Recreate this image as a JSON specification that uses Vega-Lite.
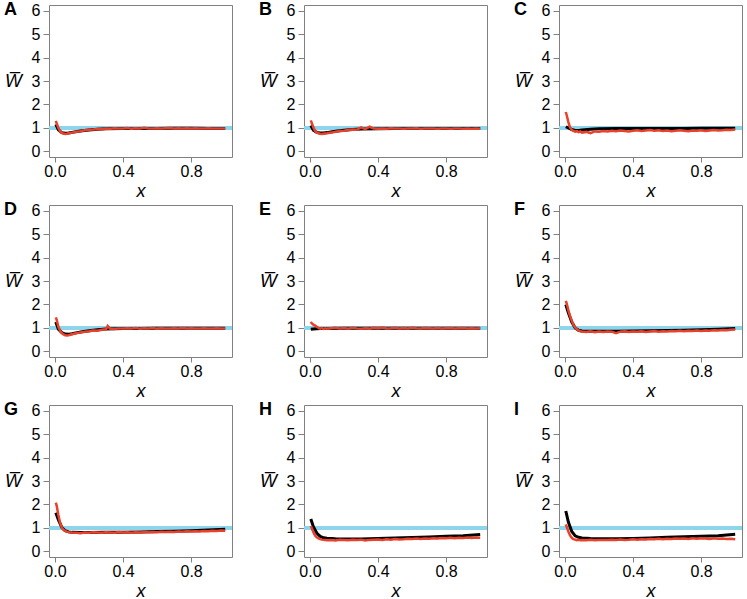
{
  "$schema": "https://vega.github.io/schema/vega-lite/v6.json",
  "padding": {"left": 3, "top": 0, "right": 0, "bottom": 0},
  "background": "white",
  "bounds": "flush",
  "columns": 3,
  "spacing": {"row": 48, "column": 72},
  "datasets": {
    "rows": [
      {"p":"A","s":"m","x":0.005,"y":1.15},{"p":"A","s":"m","x":0.02,"y":0.92},{"p":"A","s":"m","x":0.04,"y":0.80},{"p":"A","s":"m","x":0.06,"y":0.77},{"p":"A","s":"m","x":0.08,"y":0.78},{"p":"A","s":"m","x":0.1,"y":0.81},{"p":"A","s":"m","x":0.13,"y":0.85},{"p":"A","s":"m","x":0.16,"y":0.88},{"p":"A","s":"m","x":0.2,"y":0.91},{"p":"A","s":"m","x":0.25,"y":0.94},{"p":"A","s":"m","x":0.3,"y":0.96},{"p":"A","s":"m","x":0.4,"y":0.97},{"p":"A","s":"m","x":0.5,"y":0.98},{"p":"A","s":"m","x":0.6,"y":0.98},{"p":"A","s":"m","x":0.7,"y":0.985},{"p":"A","s":"m","x":0.8,"y":0.985},{"p":"A","s":"m","x":0.9,"y":0.98},{"p":"A","s":"m","x":1.0,"y":0.98},
      {"p":"A","s":"r","x":0.005,"y":1.30},{"p":"A","s":"r","x":0.01,"y":1.20},{"p":"A","s":"r","x":0.02,"y":1.00},{"p":"A","s":"r","x":0.03,"y":0.86},{"p":"A","s":"r","x":0.04,"y":0.79},{"p":"A","s":"r","x":0.05,"y":0.76},{"p":"A","s":"r","x":0.06,"y":0.74},{"p":"A","s":"r","x":0.07,"y":0.75},{"p":"A","s":"r","x":0.08,"y":0.77},{"p":"A","s":"r","x":0.09,"y":0.78},{"p":"A","s":"r","x":0.1,"y":0.80},{"p":"A","s":"r","x":0.125,"y":0.84},{"p":"A","s":"r","x":0.15,"y":0.86},{"p":"A","s":"r","x":0.175,"y":0.90},{"p":"A","s":"r","x":0.2,"y":0.92},{"p":"A","s":"r","x":0.225,"y":0.93},{"p":"A","s":"r","x":0.25,"y":0.95},{"p":"A","s":"r","x":0.275,"y":0.94},{"p":"A","s":"r","x":0.3,"y":0.97},{"p":"A","s":"r","x":0.325,"y":0.96},{"p":"A","s":"r","x":0.35,"y":0.99},{"p":"A","s":"r","x":0.375,"y":0.97},{"p":"A","s":"r","x":0.4,"y":0.98},{"p":"A","s":"r","x":0.425,"y":1.00},{"p":"A","s":"r","x":0.45,"y":0.97},{"p":"A","s":"r","x":0.475,"y":0.99},{"p":"A","s":"r","x":0.5,"y":0.98},{"p":"A","s":"r","x":0.525,"y":1.01},{"p":"A","s":"r","x":0.55,"y":0.98},{"p":"A","s":"r","x":0.575,"y":0.97},{"p":"A","s":"r","x":0.6,"y":0.99},{"p":"A","s":"r","x":0.625,"y":0.98},{"p":"A","s":"r","x":0.65,"y":0.99},{"p":"A","s":"r","x":0.675,"y":1.00},{"p":"A","s":"r","x":0.7,"y":0.98},{"p":"A","s":"r","x":0.725,"y":0.99},{"p":"A","s":"r","x":0.75,"y":0.97},{"p":"A","s":"r","x":0.775,"y":0.99},{"p":"A","s":"r","x":0.8,"y":0.98},{"p":"A","s":"r","x":0.825,"y":0.99},{"p":"A","s":"r","x":0.85,"y":0.97},{"p":"A","s":"r","x":0.875,"y":0.98},{"p":"A","s":"r","x":0.9,"y":0.99},{"p":"A","s":"r","x":0.925,"y":0.97},{"p":"A","s":"r","x":0.95,"y":0.98},{"p":"A","s":"r","x":0.975,"y":0.97},{"p":"A","s":"r","x":1.0,"y":0.98},

      {"p":"B","s":"m","x":0.005,"y":1.10},{"p":"B","s":"m","x":0.02,"y":0.90},{"p":"B","s":"m","x":0.04,"y":0.81},{"p":"B","s":"m","x":0.06,"y":0.78},{"p":"B","s":"m","x":0.08,"y":0.78},{"p":"B","s":"m","x":0.1,"y":0.80},{"p":"B","s":"m","x":0.13,"y":0.84},{"p":"B","s":"m","x":0.16,"y":0.87},{"p":"B","s":"m","x":0.2,"y":0.90},{"p":"B","s":"m","x":0.25,"y":0.93},{"p":"B","s":"m","x":0.3,"y":0.95},{"p":"B","s":"m","x":0.4,"y":0.965},{"p":"B","s":"m","x":0.5,"y":0.97},{"p":"B","s":"m","x":0.6,"y":0.975},{"p":"B","s":"m","x":0.7,"y":0.975},{"p":"B","s":"m","x":0.8,"y":0.975},{"p":"B","s":"m","x":0.9,"y":0.975},{"p":"B","s":"m","x":1.0,"y":0.975},
      {"p":"B","s":"r","x":0.005,"y":1.32},{"p":"B","s":"r","x":0.01,"y":1.22},{"p":"B","s":"r","x":0.02,"y":1.02},{"p":"B","s":"r","x":0.03,"y":0.88},{"p":"B","s":"r","x":0.04,"y":0.80},{"p":"B","s":"r","x":0.05,"y":0.77},{"p":"B","s":"r","x":0.06,"y":0.75},{"p":"B","s":"r","x":0.07,"y":0.74},{"p":"B","s":"r","x":0.08,"y":0.75},{"p":"B","s":"r","x":0.09,"y":0.76},{"p":"B","s":"r","x":0.1,"y":0.77},{"p":"B","s":"r","x":0.125,"y":0.80},{"p":"B","s":"r","x":0.15,"y":0.84},{"p":"B","s":"r","x":0.175,"y":0.87},{"p":"B","s":"r","x":0.2,"y":0.88},{"p":"B","s":"r","x":0.225,"y":0.91},{"p":"B","s":"r","x":0.25,"y":0.93},{"p":"B","s":"r","x":0.275,"y":0.92},{"p":"B","s":"r","x":0.3,"y":1.02},{"p":"B","s":"r","x":0.325,"y":0.95},{"p":"B","s":"r","x":0.35,"y":1.05},{"p":"B","s":"r","x":0.375,"y":0.97},{"p":"B","s":"r","x":0.4,"y":0.96},{"p":"B","s":"r","x":0.425,"y":0.98},{"p":"B","s":"r","x":0.45,"y":0.96},{"p":"B","s":"r","x":0.475,"y":0.99},{"p":"B","s":"r","x":0.5,"y":0.97},{"p":"B","s":"r","x":0.525,"y":0.98},{"p":"B","s":"r","x":0.55,"y":0.96},{"p":"B","s":"r","x":0.575,"y":0.98},{"p":"B","s":"r","x":0.6,"y":0.97},{"p":"B","s":"r","x":0.625,"y":0.99},{"p":"B","s":"r","x":0.65,"y":0.96},{"p":"B","s":"r","x":0.675,"y":0.98},{"p":"B","s":"r","x":0.7,"y":0.97},{"p":"B","s":"r","x":0.725,"y":0.98},{"p":"B","s":"r","x":0.75,"y":0.96},{"p":"B","s":"r","x":0.775,"y":0.98},{"p":"B","s":"r","x":0.8,"y":0.97},{"p":"B","s":"r","x":0.825,"y":0.96},{"p":"B","s":"r","x":0.85,"y":0.98},{"p":"B","s":"r","x":0.875,"y":0.97},{"p":"B","s":"r","x":0.9,"y":0.96},{"p":"B","s":"r","x":0.925,"y":0.97},{"p":"B","s":"r","x":0.95,"y":0.96},{"p":"B","s":"r","x":0.975,"y":0.97},{"p":"B","s":"r","x":1.0,"y":0.96},

      {"p":"C","s":"m","x":0.005,"y":1.05},{"p":"C","s":"m","x":0.02,"y":1.00},{"p":"C","s":"m","x":0.04,"y":0.93},{"p":"C","s":"m","x":0.06,"y":0.89},{"p":"C","s":"m","x":0.08,"y":0.89},{"p":"C","s":"m","x":0.1,"y":0.91},{"p":"C","s":"m","x":0.15,"y":0.94},{"p":"C","s":"m","x":0.2,"y":0.96},{"p":"C","s":"m","x":0.3,"y":0.97},{"p":"C","s":"m","x":0.4,"y":0.975},{"p":"C","s":"m","x":0.5,"y":0.98},{"p":"C","s":"m","x":0.6,"y":0.98},{"p":"C","s":"m","x":0.7,"y":0.98},{"p":"C","s":"m","x":0.8,"y":0.985},{"p":"C","s":"m","x":0.9,"y":0.99},{"p":"C","s":"m","x":1.0,"y":0.99},
      {"p":"C","s":"r","x":0.005,"y":1.68},{"p":"C","s":"r","x":0.01,"y":1.55},{"p":"C","s":"r","x":0.02,"y":1.25},{"p":"C","s":"r","x":0.03,"y":1.02},{"p":"C","s":"r","x":0.04,"y":0.92},{"p":"C","s":"r","x":0.05,"y":0.87},{"p":"C","s":"r","x":0.06,"y":0.84},{"p":"C","s":"r","x":0.07,"y":0.86},{"p":"C","s":"r","x":0.08,"y":0.82},{"p":"C","s":"r","x":0.09,"y":0.85},{"p":"C","s":"r","x":0.1,"y":0.80},{"p":"C","s":"r","x":0.125,"y":0.83},{"p":"C","s":"r","x":0.15,"y":0.78},{"p":"C","s":"r","x":0.175,"y":0.85},{"p":"C","s":"r","x":0.2,"y":0.84},{"p":"C","s":"r","x":0.225,"y":0.87},{"p":"C","s":"r","x":0.25,"y":0.85},{"p":"C","s":"r","x":0.275,"y":0.88},{"p":"C","s":"r","x":0.3,"y":0.86},{"p":"C","s":"r","x":0.325,"y":0.89},{"p":"C","s":"r","x":0.35,"y":0.87},{"p":"C","s":"r","x":0.375,"y":0.85},{"p":"C","s":"r","x":0.4,"y":0.88},{"p":"C","s":"r","x":0.425,"y":0.90},{"p":"C","s":"r","x":0.45,"y":0.87},{"p":"C","s":"r","x":0.475,"y":0.89},{"p":"C","s":"r","x":0.5,"y":0.91},{"p":"C","s":"r","x":0.525,"y":0.88},{"p":"C","s":"r","x":0.55,"y":0.90},{"p":"C","s":"r","x":0.575,"y":0.87},{"p":"C","s":"r","x":0.6,"y":0.89},{"p":"C","s":"r","x":0.625,"y":0.86},{"p":"C","s":"r","x":0.65,"y":0.88},{"p":"C","s":"r","x":0.675,"y":0.90},{"p":"C","s":"r","x":0.7,"y":0.88},{"p":"C","s":"r","x":0.725,"y":0.86},{"p":"C","s":"r","x":0.75,"y":0.89},{"p":"C","s":"r","x":0.775,"y":0.88},{"p":"C","s":"r","x":0.8,"y":0.90},{"p":"C","s":"r","x":0.825,"y":0.87},{"p":"C","s":"r","x":0.85,"y":0.89},{"p":"C","s":"r","x":0.875,"y":0.91},{"p":"C","s":"r","x":0.9,"y":0.89},{"p":"C","s":"r","x":0.925,"y":0.90},{"p":"C","s":"r","x":0.95,"y":0.92},{"p":"C","s":"r","x":0.975,"y":0.91},{"p":"C","s":"r","x":1.0,"y":0.93},

      {"p":"D","s":"m","x":0.005,"y":1.25},{"p":"D","s":"m","x":0.02,"y":0.95},{"p":"D","s":"m","x":0.04,"y":0.80},{"p":"D","s":"m","x":0.06,"y":0.74},{"p":"D","s":"m","x":0.08,"y":0.73},{"p":"D","s":"m","x":0.1,"y":0.75},{"p":"D","s":"m","x":0.13,"y":0.80},{"p":"D","s":"m","x":0.16,"y":0.84},{"p":"D","s":"m","x":0.2,"y":0.88},{"p":"D","s":"m","x":0.25,"y":0.92},{"p":"D","s":"m","x":0.3,"y":0.95},{"p":"D","s":"m","x":0.4,"y":0.97},{"p":"D","s":"m","x":0.5,"y":0.98},{"p":"D","s":"m","x":0.6,"y":0.985},{"p":"D","s":"m","x":0.7,"y":0.99},{"p":"D","s":"m","x":0.8,"y":0.99},{"p":"D","s":"m","x":0.9,"y":0.99},{"p":"D","s":"m","x":1.0,"y":0.99},
      {"p":"D","s":"r","x":0.005,"y":1.45},{"p":"D","s":"r","x":0.01,"y":1.35},{"p":"D","s":"r","x":0.02,"y":1.05},{"p":"D","s":"r","x":0.03,"y":0.88},{"p":"D","s":"r","x":0.04,"y":0.78},{"p":"D","s":"r","x":0.05,"y":0.72},{"p":"D","s":"r","x":0.06,"y":0.69},{"p":"D","s":"r","x":0.07,"y":0.68},{"p":"D","s":"r","x":0.08,"y":0.69},{"p":"D","s":"r","x":0.09,"y":0.71},{"p":"D","s":"r","x":0.1,"y":0.73},{"p":"D","s":"r","x":0.125,"y":0.77},{"p":"D","s":"r","x":0.15,"y":0.81},{"p":"D","s":"r","x":0.175,"y":0.84},{"p":"D","s":"r","x":0.2,"y":0.86},{"p":"D","s":"r","x":0.225,"y":0.89},{"p":"D","s":"r","x":0.25,"y":0.88},{"p":"D","s":"r","x":0.275,"y":0.92},{"p":"D","s":"r","x":0.3,"y":0.94},{"p":"D","s":"r","x":0.31,"y":1.08},{"p":"D","s":"r","x":0.325,"y":0.96},{"p":"D","s":"r","x":0.35,"y":0.95},{"p":"D","s":"r","x":0.375,"y":0.98},{"p":"D","s":"r","x":0.4,"y":0.97},{"p":"D","s":"r","x":0.425,"y":0.99},{"p":"D","s":"r","x":0.45,"y":0.98},{"p":"D","s":"r","x":0.475,"y":1.00},{"p":"D","s":"r","x":0.5,"y":0.97},{"p":"D","s":"r","x":0.525,"y":0.99},{"p":"D","s":"r","x":0.55,"y":0.98},{"p":"D","s":"r","x":0.575,"y":1.00},{"p":"D","s":"r","x":0.6,"y":0.97},{"p":"D","s":"r","x":0.625,"y":0.99},{"p":"D","s":"r","x":0.65,"y":0.98},{"p":"D","s":"r","x":0.675,"y":0.97},{"p":"D","s":"r","x":0.7,"y":0.99},{"p":"D","s":"r","x":0.725,"y":0.98},{"p":"D","s":"r","x":0.75,"y":1.00},{"p":"D","s":"r","x":0.775,"y":0.98},{"p":"D","s":"r","x":0.8,"y":0.99},{"p":"D","s":"r","x":0.825,"y":0.97},{"p":"D","s":"r","x":0.85,"y":0.98},{"p":"D","s":"r","x":0.875,"y":0.99},{"p":"D","s":"r","x":0.9,"y":0.97},{"p":"D","s":"r","x":0.925,"y":0.98},{"p":"D","s":"r","x":0.95,"y":0.99},{"p":"D","s":"r","x":0.975,"y":0.97},{"p":"D","s":"r","x":1.0,"y":0.98},

      {"p":"E","s":"m","x":0.005,"y":0.94},{"p":"E","s":"m","x":0.02,"y":0.95},{"p":"E","s":"m","x":0.04,"y":0.96},{"p":"E","s":"m","x":0.06,"y":0.97},{"p":"E","s":"m","x":0.1,"y":0.98},{"p":"E","s":"m","x":0.2,"y":0.985},{"p":"E","s":"m","x":0.4,"y":0.99},{"p":"E","s":"m","x":0.6,"y":0.99},{"p":"E","s":"m","x":0.8,"y":0.99},{"p":"E","s":"m","x":1.0,"y":0.99},
      {"p":"E","s":"r","x":0.005,"y":1.26},{"p":"E","s":"r","x":0.01,"y":1.20},{"p":"E","s":"r","x":0.02,"y":1.14},{"p":"E","s":"r","x":0.03,"y":1.10},{"p":"E","s":"r","x":0.04,"y":1.05},{"p":"E","s":"r","x":0.05,"y":1.00},{"p":"E","s":"r","x":0.06,"y":0.97},{"p":"E","s":"r","x":0.07,"y":0.99},{"p":"E","s":"r","x":0.08,"y":0.96},{"p":"E","s":"r","x":0.09,"y":0.98},{"p":"E","s":"r","x":0.1,"y":0.97},{"p":"E","s":"r","x":0.125,"y":0.99},{"p":"E","s":"r","x":0.15,"y":1.01},{"p":"E","s":"r","x":0.175,"y":0.98},{"p":"E","s":"r","x":0.2,"y":1.00},{"p":"E","s":"r","x":0.225,"y":0.97},{"p":"E","s":"r","x":0.25,"y":1.01},{"p":"E","s":"r","x":0.275,"y":0.98},{"p":"E","s":"r","x":0.3,"y":0.96},{"p":"E","s":"r","x":0.325,"y":0.99},{"p":"E","s":"r","x":0.35,"y":0.97},{"p":"E","s":"r","x":0.375,"y":1.01},{"p":"E","s":"r","x":0.4,"y":0.99},{"p":"E","s":"r","x":0.425,"y":1.02},{"p":"E","s":"r","x":0.45,"y":0.98},{"p":"E","s":"r","x":0.475,"y":0.99},{"p":"E","s":"r","x":0.5,"y":1.01},{"p":"E","s":"r","x":0.525,"y":0.98},{"p":"E","s":"r","x":0.55,"y":1.00},{"p":"E","s":"r","x":0.575,"y":0.98},{"p":"E","s":"r","x":0.6,"y":1.01},{"p":"E","s":"r","x":0.625,"y":0.99},{"p":"E","s":"r","x":0.65,"y":0.98},{"p":"E","s":"r","x":0.675,"y":1.00},{"p":"E","s":"r","x":0.7,"y":0.99},{"p":"E","s":"r","x":0.725,"y":0.98},{"p":"E","s":"r","x":0.75,"y":1.00},{"p":"E","s":"r","x":0.775,"y":0.98},{"p":"E","s":"r","x":0.8,"y":0.99},{"p":"E","s":"r","x":0.825,"y":1.00},{"p":"E","s":"r","x":0.85,"y":0.98},{"p":"E","s":"r","x":0.875,"y":0.99},{"p":"E","s":"r","x":0.9,"y":1.00},{"p":"E","s":"r","x":0.925,"y":0.98},{"p":"E","s":"r","x":0.95,"y":0.99},{"p":"E","s":"r","x":0.975,"y":0.98},{"p":"E","s":"r","x":1.0,"y":0.99},

      {"p":"F","s":"m","x":0.005,"y":2.00},{"p":"F","s":"m","x":0.02,"y":1.65},{"p":"F","s":"m","x":0.04,"y":1.25},{"p":"F","s":"m","x":0.06,"y":1.00},{"p":"F","s":"m","x":0.08,"y":0.90},{"p":"F","s":"m","x":0.1,"y":0.87},{"p":"F","s":"m","x":0.15,"y":0.86},{"p":"F","s":"m","x":0.2,"y":0.86},{"p":"F","s":"m","x":0.3,"y":0.86},{"p":"F","s":"m","x":0.4,"y":0.87},{"p":"F","s":"m","x":0.5,"y":0.88},{"p":"F","s":"m","x":0.6,"y":0.89},{"p":"F","s":"m","x":0.7,"y":0.90},{"p":"F","s":"m","x":0.8,"y":0.92},{"p":"F","s":"m","x":0.9,"y":0.94},{"p":"F","s":"m","x":1.0,"y":0.97},
      {"p":"F","s":"r","x":0.005,"y":2.15},{"p":"F","s":"r","x":0.01,"y":2.05},{"p":"F","s":"r","x":0.02,"y":1.75},{"p":"F","s":"r","x":0.03,"y":1.50},{"p":"F","s":"r","x":0.04,"y":1.30},{"p":"F","s":"r","x":0.05,"y":1.13},{"p":"F","s":"r","x":0.06,"y":1.02},{"p":"F","s":"r","x":0.07,"y":0.94},{"p":"F","s":"r","x":0.08,"y":0.89},{"p":"F","s":"r","x":0.09,"y":0.86},{"p":"F","s":"r","x":0.1,"y":0.85},{"p":"F","s":"r","x":0.125,"y":0.83},{"p":"F","s":"r","x":0.15,"y":0.86},{"p":"F","s":"r","x":0.175,"y":0.82},{"p":"F","s":"r","x":0.2,"y":0.85},{"p":"F","s":"r","x":0.225,"y":0.83},{"p":"F","s":"r","x":0.25,"y":0.85},{"p":"F","s":"r","x":0.275,"y":0.84},{"p":"F","s":"r","x":0.3,"y":0.78},{"p":"F","s":"r","x":0.325,"y":0.84},{"p":"F","s":"r","x":0.35,"y":0.86},{"p":"F","s":"r","x":0.375,"y":0.83},{"p":"F","s":"r","x":0.4,"y":0.85},{"p":"F","s":"r","x":0.425,"y":0.84},{"p":"F","s":"r","x":0.45,"y":0.86},{"p":"F","s":"r","x":0.475,"y":0.83},{"p":"F","s":"r","x":0.5,"y":0.85},{"p":"F","s":"r","x":0.525,"y":0.87},{"p":"F","s":"r","x":0.55,"y":0.84},{"p":"F","s":"r","x":0.575,"y":0.86},{"p":"F","s":"r","x":0.6,"y":0.85},{"p":"F","s":"r","x":0.625,"y":0.87},{"p":"F","s":"r","x":0.65,"y":0.86},{"p":"F","s":"r","x":0.675,"y":0.88},{"p":"F","s":"r","x":0.7,"y":0.86},{"p":"F","s":"r","x":0.725,"y":0.88},{"p":"F","s":"r","x":0.75,"y":0.87},{"p":"F","s":"r","x":0.775,"y":0.89},{"p":"F","s":"r","x":0.8,"y":0.87},{"p":"F","s":"r","x":0.825,"y":0.89},{"p":"F","s":"r","x":0.85,"y":0.88},{"p":"F","s":"r","x":0.875,"y":0.90},{"p":"F","s":"r","x":0.9,"y":0.89},{"p":"F","s":"r","x":0.925,"y":0.91},{"p":"F","s":"r","x":0.95,"y":0.90},{"p":"F","s":"r","x":0.975,"y":0.92},{"p":"F","s":"r","x":1.0,"y":0.93},

      {"p":"G","s":"m","x":0.005,"y":1.65},{"p":"G","s":"m","x":0.02,"y":1.35},{"p":"G","s":"m","x":0.04,"y":1.02},{"p":"G","s":"m","x":0.06,"y":0.88},{"p":"G","s":"m","x":0.08,"y":0.83},{"p":"G","s":"m","x":0.1,"y":0.81},{"p":"G","s":"m","x":0.15,"y":0.80},{"p":"G","s":"m","x":0.2,"y":0.80},{"p":"G","s":"m","x":0.3,"y":0.81},{"p":"G","s":"m","x":0.4,"y":0.82},{"p":"G","s":"m","x":0.5,"y":0.83},{"p":"G","s":"m","x":0.6,"y":0.85},{"p":"G","s":"m","x":0.7,"y":0.86},{"p":"G","s":"m","x":0.8,"y":0.88},{"p":"G","s":"m","x":0.9,"y":0.91},{"p":"G","s":"m","x":1.0,"y":0.94},
      {"p":"G","s":"r","x":0.005,"y":2.08},{"p":"G","s":"r","x":0.01,"y":1.95},{"p":"G","s":"r","x":0.02,"y":1.55},{"p":"G","s":"r","x":0.03,"y":1.22},{"p":"G","s":"r","x":0.04,"y":1.02},{"p":"G","s":"r","x":0.05,"y":0.92},{"p":"G","s":"r","x":0.06,"y":0.87},{"p":"G","s":"r","x":0.07,"y":0.84},{"p":"G","s":"r","x":0.08,"y":0.82},{"p":"G","s":"r","x":0.09,"y":0.81},{"p":"G","s":"r","x":0.1,"y":0.80},{"p":"G","s":"r","x":0.125,"y":0.79},{"p":"G","s":"r","x":0.15,"y":0.77},{"p":"G","s":"r","x":0.175,"y":0.80},{"p":"G","s":"r","x":0.2,"y":0.79},{"p":"G","s":"r","x":0.225,"y":0.81},{"p":"G","s":"r","x":0.25,"y":0.80},{"p":"G","s":"r","x":0.275,"y":0.79},{"p":"G","s":"r","x":0.3,"y":0.81},{"p":"G","s":"r","x":0.325,"y":0.80},{"p":"G","s":"r","x":0.35,"y":0.79},{"p":"G","s":"r","x":0.375,"y":0.82},{"p":"G","s":"r","x":0.4,"y":0.80},{"p":"G","s":"r","x":0.425,"y":0.81},{"p":"G","s":"r","x":0.45,"y":0.79},{"p":"G","s":"r","x":0.475,"y":0.81},{"p":"G","s":"r","x":0.5,"y":0.80},{"p":"G","s":"r","x":0.525,"y":0.82},{"p":"G","s":"r","x":0.55,"y":0.81},{"p":"G","s":"r","x":0.575,"y":0.83},{"p":"G","s":"r","x":0.6,"y":0.82},{"p":"G","s":"r","x":0.625,"y":0.84},{"p":"G","s":"r","x":0.65,"y":0.83},{"p":"G","s":"r","x":0.675,"y":0.84},{"p":"G","s":"r","x":0.7,"y":0.83},{"p":"G","s":"r","x":0.725,"y":0.85},{"p":"G","s":"r","x":0.75,"y":0.84},{"p":"G","s":"r","x":0.775,"y":0.86},{"p":"G","s":"r","x":0.8,"y":0.85},{"p":"G","s":"r","x":0.825,"y":0.86},{"p":"G","s":"r","x":0.85,"y":0.85},{"p":"G","s":"r","x":0.875,"y":0.87},{"p":"G","s":"r","x":0.9,"y":0.86},{"p":"G","s":"r","x":0.925,"y":0.88},{"p":"G","s":"r","x":0.95,"y":0.87},{"p":"G","s":"r","x":0.975,"y":0.89},{"p":"G","s":"r","x":1.0,"y":0.88},

      {"p":"H","s":"m","x":0.005,"y":1.38},{"p":"H","s":"m","x":0.02,"y":1.05},{"p":"H","s":"m","x":0.04,"y":0.78},{"p":"H","s":"m","x":0.06,"y":0.64},{"p":"H","s":"m","x":0.08,"y":0.58},{"p":"H","s":"m","x":0.1,"y":0.56},{"p":"H","s":"m","x":0.15,"y":0.54},{"p":"H","s":"m","x":0.2,"y":0.53},{"p":"H","s":"m","x":0.3,"y":0.53},{"p":"H","s":"m","x":0.4,"y":0.55},{"p":"H","s":"m","x":0.5,"y":0.57},{"p":"H","s":"m","x":0.6,"y":0.59},{"p":"H","s":"m","x":0.7,"y":0.61},{"p":"H","s":"m","x":0.8,"y":0.64},{"p":"H","s":"m","x":0.9,"y":0.67},{"p":"H","s":"m","x":1.0,"y":0.72},
      {"p":"H","s":"r","x":0.005,"y":1.08},{"p":"H","s":"r","x":0.01,"y":1.00},{"p":"H","s":"r","x":0.02,"y":0.82},{"p":"H","s":"r","x":0.03,"y":0.68},{"p":"H","s":"r","x":0.04,"y":0.60},{"p":"H","s":"r","x":0.05,"y":0.55},{"p":"H","s":"r","x":0.06,"y":0.52},{"p":"H","s":"r","x":0.07,"y":0.50},{"p":"H","s":"r","x":0.08,"y":0.49},{"p":"H","s":"r","x":0.09,"y":0.48},{"p":"H","s":"r","x":0.1,"y":0.47},{"p":"H","s":"r","x":0.125,"y":0.48},{"p":"H","s":"r","x":0.15,"y":0.46},{"p":"H","s":"r","x":0.175,"y":0.49},{"p":"H","s":"r","x":0.2,"y":0.48},{"p":"H","s":"r","x":0.225,"y":0.47},{"p":"H","s":"r","x":0.25,"y":0.49},{"p":"H","s":"r","x":0.275,"y":0.48},{"p":"H","s":"r","x":0.3,"y":0.50},{"p":"H","s":"r","x":0.325,"y":0.46},{"p":"H","s":"r","x":0.35,"y":0.49},{"p":"H","s":"r","x":0.375,"y":0.50},{"p":"H","s":"r","x":0.4,"y":0.51},{"p":"H","s":"r","x":0.425,"y":0.49},{"p":"H","s":"r","x":0.45,"y":0.52},{"p":"H","s":"r","x":0.475,"y":0.50},{"p":"H","s":"r","x":0.5,"y":0.53},{"p":"H","s":"r","x":0.525,"y":0.51},{"p":"H","s":"r","x":0.55,"y":0.52},{"p":"H","s":"r","x":0.575,"y":0.54},{"p":"H","s":"r","x":0.6,"y":0.53},{"p":"H","s":"r","x":0.625,"y":0.55},{"p":"H","s":"r","x":0.65,"y":0.53},{"p":"H","s":"r","x":0.675,"y":0.55},{"p":"H","s":"r","x":0.7,"y":0.54},{"p":"H","s":"r","x":0.725,"y":0.56},{"p":"H","s":"r","x":0.75,"y":0.55},{"p":"H","s":"r","x":0.775,"y":0.57},{"p":"H","s":"r","x":0.8,"y":0.56},{"p":"H","s":"r","x":0.825,"y":0.58},{"p":"H","s":"r","x":0.85,"y":0.56},{"p":"H","s":"r","x":0.875,"y":0.58},{"p":"H","s":"r","x":0.9,"y":0.57},{"p":"H","s":"r","x":0.925,"y":0.59},{"p":"H","s":"r","x":0.95,"y":0.57},{"p":"H","s":"r","x":0.975,"y":0.59},{"p":"H","s":"r","x":1.0,"y":0.58},

      {"p":"I","s":"m","x":0.005,"y":1.72},{"p":"I","s":"m","x":0.02,"y":1.25},{"p":"I","s":"m","x":0.04,"y":0.85},{"p":"I","s":"m","x":0.06,"y":0.66},{"p":"I","s":"m","x":0.08,"y":0.60},{"p":"I","s":"m","x":0.1,"y":0.57},{"p":"I","s":"m","x":0.15,"y":0.55},{"p":"I","s":"m","x":0.2,"y":0.54},{"p":"I","s":"m","x":0.3,"y":0.54},{"p":"I","s":"m","x":0.4,"y":0.55},{"p":"I","s":"m","x":0.5,"y":0.57},{"p":"I","s":"m","x":0.6,"y":0.60},{"p":"I","s":"m","x":0.7,"y":0.62},{"p":"I","s":"m","x":0.8,"y":0.64},{"p":"I","s":"m","x":0.9,"y":0.67},{"p":"I","s":"m","x":1.0,"y":0.73},
      {"p":"I","s":"r","x":0.005,"y":1.15},{"p":"I","s":"r","x":0.01,"y":1.05},{"p":"I","s":"r","x":0.02,"y":0.85},{"p":"I","s":"r","x":0.03,"y":0.68},{"p":"I","s":"r","x":0.04,"y":0.58},{"p":"I","s":"r","x":0.05,"y":0.52},{"p":"I","s":"r","x":0.06,"y":0.50},{"p":"I","s":"r","x":0.07,"y":0.48},{"p":"I","s":"r","x":0.08,"y":0.49},{"p":"I","s":"r","x":0.09,"y":0.47},{"p":"I","s":"r","x":0.1,"y":0.48},{"p":"I","s":"r","x":0.125,"y":0.47},{"p":"I","s":"r","x":0.15,"y":0.49},{"p":"I","s":"r","x":0.175,"y":0.47},{"p":"I","s":"r","x":0.2,"y":0.48},{"p":"I","s":"r","x":0.225,"y":0.49},{"p":"I","s":"r","x":0.25,"y":0.48},{"p":"I","s":"r","x":0.275,"y":0.50},{"p":"I","s":"r","x":0.3,"y":0.49},{"p":"I","s":"r","x":0.325,"y":0.51},{"p":"I","s":"r","x":0.35,"y":0.49},{"p":"I","s":"r","x":0.375,"y":0.50},{"p":"I","s":"r","x":0.4,"y":0.52},{"p":"I","s":"r","x":0.425,"y":0.50},{"p":"I","s":"r","x":0.45,"y":0.52},{"p":"I","s":"r","x":0.475,"y":0.51},{"p":"I","s":"r","x":0.5,"y":0.53},{"p":"I","s":"r","x":0.525,"y":0.52},{"p":"I","s":"r","x":0.55,"y":0.54},{"p":"I","s":"r","x":0.575,"y":0.52},{"p":"I","s":"r","x":0.6,"y":0.54},{"p":"I","s":"r","x":0.625,"y":0.53},{"p":"I","s":"r","x":0.65,"y":0.55},{"p":"I","s":"r","x":0.675,"y":0.54},{"p":"I","s":"r","x":0.7,"y":0.55},{"p":"I","s":"r","x":0.725,"y":0.53},{"p":"I","s":"r","x":0.75,"y":0.56},{"p":"I","s":"r","x":0.775,"y":0.54},{"p":"I","s":"r","x":0.8,"y":0.56},{"p":"I","s":"r","x":0.825,"y":0.55},{"p":"I","s":"r","x":0.85,"y":0.53},{"p":"I","s":"r","x":0.875,"y":0.56},{"p":"I","s":"r","x":0.9,"y":0.54},{"p":"I","s":"r","x":0.925,"y":0.55},{"p":"I","s":"r","x":0.95,"y":0.53},{"p":"I","s":"r","x":0.975,"y":0.54},{"p":"I","s":"r","x":1.0,"y":0.52}
    ],
    "ref": [{"y": 1}]
  },
  "concat": [
    {"title": "A", "width": 183, "height": 152, "data": {"name": "rows"}, "transform": [{"filter": "datum.p == 'A'"}], "layer": [
      {"data": {"name": "ref"}, "mark": {"type": "rule", "color": "#8dd5ea", "strokeWidth": 4}, "encoding": {"y": {"field": "y", "type": "quantitative", "title": "W\u0305", "scale": {"domain": [-0.24, 6.24], "nice": false, "zero": false}, "axis": {"values": [0,1,2,3,4,5,6], "tickCount": 7, "labelOverlap": false}}}},
      {"transform": [{"filter": "datum.s == 'm'"}], "mark": {"type": "line", "color": "black", "strokeWidth": 3}, "encoding": {"x": {"field": "x", "type": "quantitative", "title": "x", "scale": {"domain": [-0.035, 1.04], "nice": false, "zero": false}, "axis": {"values": [0,0.2,0.4,0.6,0.8,1], "labelOverlap": false, "labelExpr": "indexof([0,4,8], round(datum.value*10)) >= 0 ? format(datum.value, '.1f') : ''"}}, "y": {"field": "y", "type": "quantitative", "title": "W\u0305", "axis": {"values": [0,1,2,3,4,5,6], "tickCount": 7, "labelOverlap": false}}}},
      {"transform": [{"filter": "datum.s == 'r'"}], "mark": {"type": "line", "color": "#e8412c", "strokeWidth": 2.5}, "encoding": {"x": {"field": "x", "type": "quantitative", "title": "x"}, "y": {"field": "y", "type": "quantitative", "title": "W\u0305", "axis": {"values": [0,1,2,3,4,5,6], "tickCount": 7, "labelOverlap": false}}}}
    ]},
    {"title": "B", "width": 183, "height": 152, "data": {"name": "rows"}, "transform": [{"filter": "datum.p == 'B'"}], "layer": [
      {"data": {"name": "ref"}, "mark": {"type": "rule", "color": "#8dd5ea", "strokeWidth": 4}, "encoding": {"y": {"field": "y", "type": "quantitative", "title": "W\u0305", "scale": {"domain": [-0.24, 6.24], "nice": false, "zero": false}, "axis": {"values": [0,1,2,3,4,5,6], "tickCount": 7, "labelOverlap": false}}}},
      {"transform": [{"filter": "datum.s == 'm'"}], "mark": {"type": "line", "color": "black", "strokeWidth": 3}, "encoding": {"x": {"field": "x", "type": "quantitative", "title": "x", "scale": {"domain": [-0.035, 1.04], "nice": false, "zero": false}, "axis": {"values": [0,0.2,0.4,0.6,0.8,1], "labelOverlap": false, "labelExpr": "indexof([0,4,8], round(datum.value*10)) >= 0 ? format(datum.value, '.1f') : ''"}}, "y": {"field": "y", "type": "quantitative", "title": "W\u0305", "axis": {"values": [0,1,2,3,4,5,6], "tickCount": 7, "labelOverlap": false}}}},
      {"transform": [{"filter": "datum.s == 'r'"}], "mark": {"type": "line", "color": "#e8412c", "strokeWidth": 2.5}, "encoding": {"x": {"field": "x", "type": "quantitative", "title": "x"}, "y": {"field": "y", "type": "quantitative", "title": "W\u0305", "axis": {"values": [0,1,2,3,4,5,6], "tickCount": 7, "labelOverlap": false}}}}
    ]},
    {"title": "C", "width": 183, "height": 152, "data": {"name": "rows"}, "transform": [{"filter": "datum.p == 'C'"}], "layer": [
      {"data": {"name": "ref"}, "mark": {"type": "rule", "color": "#8dd5ea", "strokeWidth": 4}, "encoding": {"y": {"field": "y", "type": "quantitative", "title": "W\u0305", "scale": {"domain": [-0.24, 6.24], "nice": false, "zero": false}, "axis": {"values": [0,1,2,3,4,5,6], "tickCount": 7, "labelOverlap": false}}}},
      {"transform": [{"filter": "datum.s == 'm'"}], "mark": {"type": "line", "color": "black", "strokeWidth": 3}, "encoding": {"x": {"field": "x", "type": "quantitative", "title": "x", "scale": {"domain": [-0.035, 1.04], "nice": false, "zero": false}, "axis": {"values": [0,0.2,0.4,0.6,0.8,1], "labelOverlap": false, "labelExpr": "indexof([0,4,8], round(datum.value*10)) >= 0 ? format(datum.value, '.1f') : ''"}}, "y": {"field": "y", "type": "quantitative", "title": "W\u0305", "axis": {"values": [0,1,2,3,4,5,6], "tickCount": 7, "labelOverlap": false}}}},
      {"transform": [{"filter": "datum.s == 'r'"}], "mark": {"type": "line", "color": "#e8412c", "strokeWidth": 2.5}, "encoding": {"x": {"field": "x", "type": "quantitative", "title": "x"}, "y": {"field": "y", "type": "quantitative", "title": "W\u0305", "axis": {"values": [0,1,2,3,4,5,6], "tickCount": 7, "labelOverlap": false}}}}
    ]},
    {"title": "D", "width": 183, "height": 152, "data": {"name": "rows"}, "transform": [{"filter": "datum.p == 'D'"}], "layer": [
      {"data": {"name": "ref"}, "mark": {"type": "rule", "color": "#8dd5ea", "strokeWidth": 4}, "encoding": {"y": {"field": "y", "type": "quantitative", "title": "W\u0305", "scale": {"domain": [-0.24, 6.24], "nice": false, "zero": false}, "axis": {"values": [0,1,2,3,4,5,6], "tickCount": 7, "labelOverlap": false}}}},
      {"transform": [{"filter": "datum.s == 'm'"}], "mark": {"type": "line", "color": "black", "strokeWidth": 3}, "encoding": {"x": {"field": "x", "type": "quantitative", "title": "x", "scale": {"domain": [-0.035, 1.04], "nice": false, "zero": false}, "axis": {"values": [0,0.2,0.4,0.6,0.8,1], "labelOverlap": false, "labelExpr": "indexof([0,4,8], round(datum.value*10)) >= 0 ? format(datum.value, '.1f') : ''"}}, "y": {"field": "y", "type": "quantitative", "title": "W\u0305", "axis": {"values": [0,1,2,3,4,5,6], "tickCount": 7, "labelOverlap": false}}}},
      {"transform": [{"filter": "datum.s == 'r'"}], "mark": {"type": "line", "color": "#e8412c", "strokeWidth": 2.5}, "encoding": {"x": {"field": "x", "type": "quantitative", "title": "x"}, "y": {"field": "y", "type": "quantitative", "title": "W\u0305", "axis": {"values": [0,1,2,3,4,5,6], "tickCount": 7, "labelOverlap": false}}}}
    ]},
    {"title": "E", "width": 183, "height": 152, "data": {"name": "rows"}, "transform": [{"filter": "datum.p == 'E'"}], "layer": [
      {"data": {"name": "ref"}, "mark": {"type": "rule", "color": "#8dd5ea", "strokeWidth": 4}, "encoding": {"y": {"field": "y", "type": "quantitative", "title": "W\u0305", "scale": {"domain": [-0.24, 6.24], "nice": false, "zero": false}, "axis": {"values": [0,1,2,3,4,5,6], "tickCount": 7, "labelOverlap": false}}}},
      {"transform": [{"filter": "datum.s == 'm'"}], "mark": {"type": "line", "color": "black", "strokeWidth": 3}, "encoding": {"x": {"field": "x", "type": "quantitative", "title": "x", "scale": {"domain": [-0.035, 1.04], "nice": false, "zero": false}, "axis": {"values": [0,0.2,0.4,0.6,0.8,1], "labelOverlap": false, "labelExpr": "indexof([0,4,8], round(datum.value*10)) >= 0 ? format(datum.value, '.1f') : ''"}}, "y": {"field": "y", "type": "quantitative", "title": "W\u0305", "axis": {"values": [0,1,2,3,4,5,6], "tickCount": 7, "labelOverlap": false}}}},
      {"transform": [{"filter": "datum.s == 'r'"}], "mark": {"type": "line", "color": "#e8412c", "strokeWidth": 2.5}, "encoding": {"x": {"field": "x", "type": "quantitative", "title": "x"}, "y": {"field": "y", "type": "quantitative", "title": "W\u0305", "axis": {"values": [0,1,2,3,4,5,6], "tickCount": 7, "labelOverlap": false}}}}
    ]},
    {"title": "F", "width": 183, "height": 152, "data": {"name": "rows"}, "transform": [{"filter": "datum.p == 'F'"}], "layer": [
      {"data": {"name": "ref"}, "mark": {"type": "rule", "color": "#8dd5ea", "strokeWidth": 4}, "encoding": {"y": {"field": "y", "type": "quantitative", "title": "W\u0305", "scale": {"domain": [-0.24, 6.24], "nice": false, "zero": false}, "axis": {"values": [0,1,2,3,4,5,6], "tickCount": 7, "labelOverlap": false}}}},
      {"transform": [{"filter": "datum.s == 'm'"}], "mark": {"type": "line", "color": "black", "strokeWidth": 3}, "encoding": {"x": {"field": "x", "type": "quantitative", "title": "x", "scale": {"domain": [-0.035, 1.04], "nice": false, "zero": false}, "axis": {"values": [0,0.2,0.4,0.6,0.8,1], "labelOverlap": false, "labelExpr": "indexof([0,4,8], round(datum.value*10)) >= 0 ? format(datum.value, '.1f') : ''"}}, "y": {"field": "y", "type": "quantitative", "title": "W\u0305", "axis": {"values": [0,1,2,3,4,5,6], "tickCount": 7, "labelOverlap": false}}}},
      {"transform": [{"filter": "datum.s == 'r'"}], "mark": {"type": "line", "color": "#e8412c", "strokeWidth": 2.5}, "encoding": {"x": {"field": "x", "type": "quantitative", "title": "x"}, "y": {"field": "y", "type": "quantitative", "title": "W\u0305", "axis": {"values": [0,1,2,3,4,5,6], "tickCount": 7, "labelOverlap": false}}}}
    ]},
    {"title": "G", "width": 183, "height": 152, "data": {"name": "rows"}, "transform": [{"filter": "datum.p == 'G'"}], "layer": [
      {"data": {"name": "ref"}, "mark": {"type": "rule", "color": "#8dd5ea", "strokeWidth": 4}, "encoding": {"y": {"field": "y", "type": "quantitative", "title": "W\u0305", "scale": {"domain": [-0.24, 6.24], "nice": false, "zero": false}, "axis": {"values": [0,1,2,3,4,5,6], "tickCount": 7, "labelOverlap": false}}}},
      {"transform": [{"filter": "datum.s == 'm'"}], "mark": {"type": "line", "color": "black", "strokeWidth": 3}, "encoding": {"x": {"field": "x", "type": "quantitative", "title": "x", "scale": {"domain": [-0.035, 1.04], "nice": false, "zero": false}, "axis": {"values": [0,0.2,0.4,0.6,0.8,1], "labelOverlap": false, "labelExpr": "indexof([0,4,8], round(datum.value*10)) >= 0 ? format(datum.value, '.1f') : ''"}}, "y": {"field": "y", "type": "quantitative", "title": "W\u0305", "axis": {"values": [0,1,2,3,4,5,6], "tickCount": 7, "labelOverlap": false}}}},
      {"transform": [{"filter": "datum.s == 'r'"}], "mark": {"type": "line", "color": "#e8412c", "strokeWidth": 2.5}, "encoding": {"x": {"field": "x", "type": "quantitative", "title": "x"}, "y": {"field": "y", "type": "quantitative", "title": "W\u0305", "axis": {"values": [0,1,2,3,4,5,6], "tickCount": 7, "labelOverlap": false}}}}
    ]},
    {"title": "H", "width": 183, "height": 152, "data": {"name": "rows"}, "transform": [{"filter": "datum.p == 'H'"}], "layer": [
      {"data": {"name": "ref"}, "mark": {"type": "rule", "color": "#8dd5ea", "strokeWidth": 4}, "encoding": {"y": {"field": "y", "type": "quantitative", "title": "W\u0305", "scale": {"domain": [-0.24, 6.24], "nice": false, "zero": false}, "axis": {"values": [0,1,2,3,4,5,6], "tickCount": 7, "labelOverlap": false}}}},
      {"transform": [{"filter": "datum.s == 'm'"}], "mark": {"type": "line", "color": "black", "strokeWidth": 3}, "encoding": {"x": {"field": "x", "type": "quantitative", "title": "x", "scale": {"domain": [-0.035, 1.04], "nice": false, "zero": false}, "axis": {"values": [0,0.2,0.4,0.6,0.8,1], "labelOverlap": false, "labelExpr": "indexof([0,4,8], round(datum.value*10)) >= 0 ? format(datum.value, '.1f') : ''"}}, "y": {"field": "y", "type": "quantitative", "title": "W\u0305", "axis": {"values": [0,1,2,3,4,5,6], "tickCount": 7, "labelOverlap": false}}}},
      {"transform": [{"filter": "datum.s == 'r'"}], "mark": {"type": "line", "color": "#e8412c", "strokeWidth": 2.5}, "encoding": {"x": {"field": "x", "type": "quantitative", "title": "x"}, "y": {"field": "y", "type": "quantitative", "title": "W\u0305", "axis": {"values": [0,1,2,3,4,5,6], "tickCount": 7, "labelOverlap": false}}}}
    ]},
    {"title": "I", "width": 183, "height": 152, "data": {"name": "rows"}, "transform": [{"filter": "datum.p == 'I'"}], "layer": [
      {"data": {"name": "ref"}, "mark": {"type": "rule", "color": "#8dd5ea", "strokeWidth": 4}, "encoding": {"y": {"field": "y", "type": "quantitative", "title": "W\u0305", "scale": {"domain": [-0.24, 6.24], "nice": false, "zero": false}, "axis": {"values": [0,1,2,3,4,5,6], "tickCount": 7, "labelOverlap": false}}}},
      {"transform": [{"filter": "datum.s == 'm'"}], "mark": {"type": "line", "color": "black", "strokeWidth": 3}, "encoding": {"x": {"field": "x", "type": "quantitative", "title": "x", "scale": {"domain": [-0.035, 1.04], "nice": false, "zero": false}, "axis": {"values": [0,0.2,0.4,0.6,0.8,1], "labelOverlap": false, "labelExpr": "indexof([0,4,8], round(datum.value*10)) >= 0 ? format(datum.value, '.1f') : ''"}}, "y": {"field": "y", "type": "quantitative", "title": "W\u0305", "axis": {"values": [0,1,2,3,4,5,6], "tickCount": 7, "labelOverlap": false}}}},
      {"transform": [{"filter": "datum.s == 'r'"}], "mark": {"type": "line", "color": "#e8412c", "strokeWidth": 2.5}, "encoding": {"x": {"field": "x", "type": "quantitative", "title": "x"}, "y": {"field": "y", "type": "quantitative", "title": "W\u0305", "axis": {"values": [0,1,2,3,4,5,6], "tickCount": 7, "labelOverlap": false}}}}
    ]}
  ],
  "config": {
    "font": "Liberation Sans",
    "view": {"stroke": "#808080", "strokeWidth": 1},
    "title": {"anchor": "start", "frame": "group", "orient": "top", "offset": 0, "dx": -45, "dy": 20, "baseline": "alphabetic", "fontSize": 18, "fontWeight": "bold", "font": "Liberation Sans", "color": "black"},
    "axis": {"grid": false, "domain": false, "tickColor": "#808080", "tickSize": 6, "labelColor": "black", "labelFont": "Liberation Sans", "labelFontSize": 16, "titleFont": "Liberation Sans", "titleColor": "black", "titleFontStyle": "italic", "titleFontWeight": "normal", "titleFontSize": 18},
    "axisX": {"tickSize": 5, "labelPadding": 1, "labelFlush": false, "labelOverlap": false, "titleX": 91.5, "titleY": 39, "titleBaseline": "alphabetic", "titleAlign": "center"},
    "axisY": {"labelPadding": 3, "labelOverlap": false, "titleAngle": 0, "titleX": -36, "titleY": 76, "titleAlign": "center", "titleBaseline": "middle"}
  }
}
